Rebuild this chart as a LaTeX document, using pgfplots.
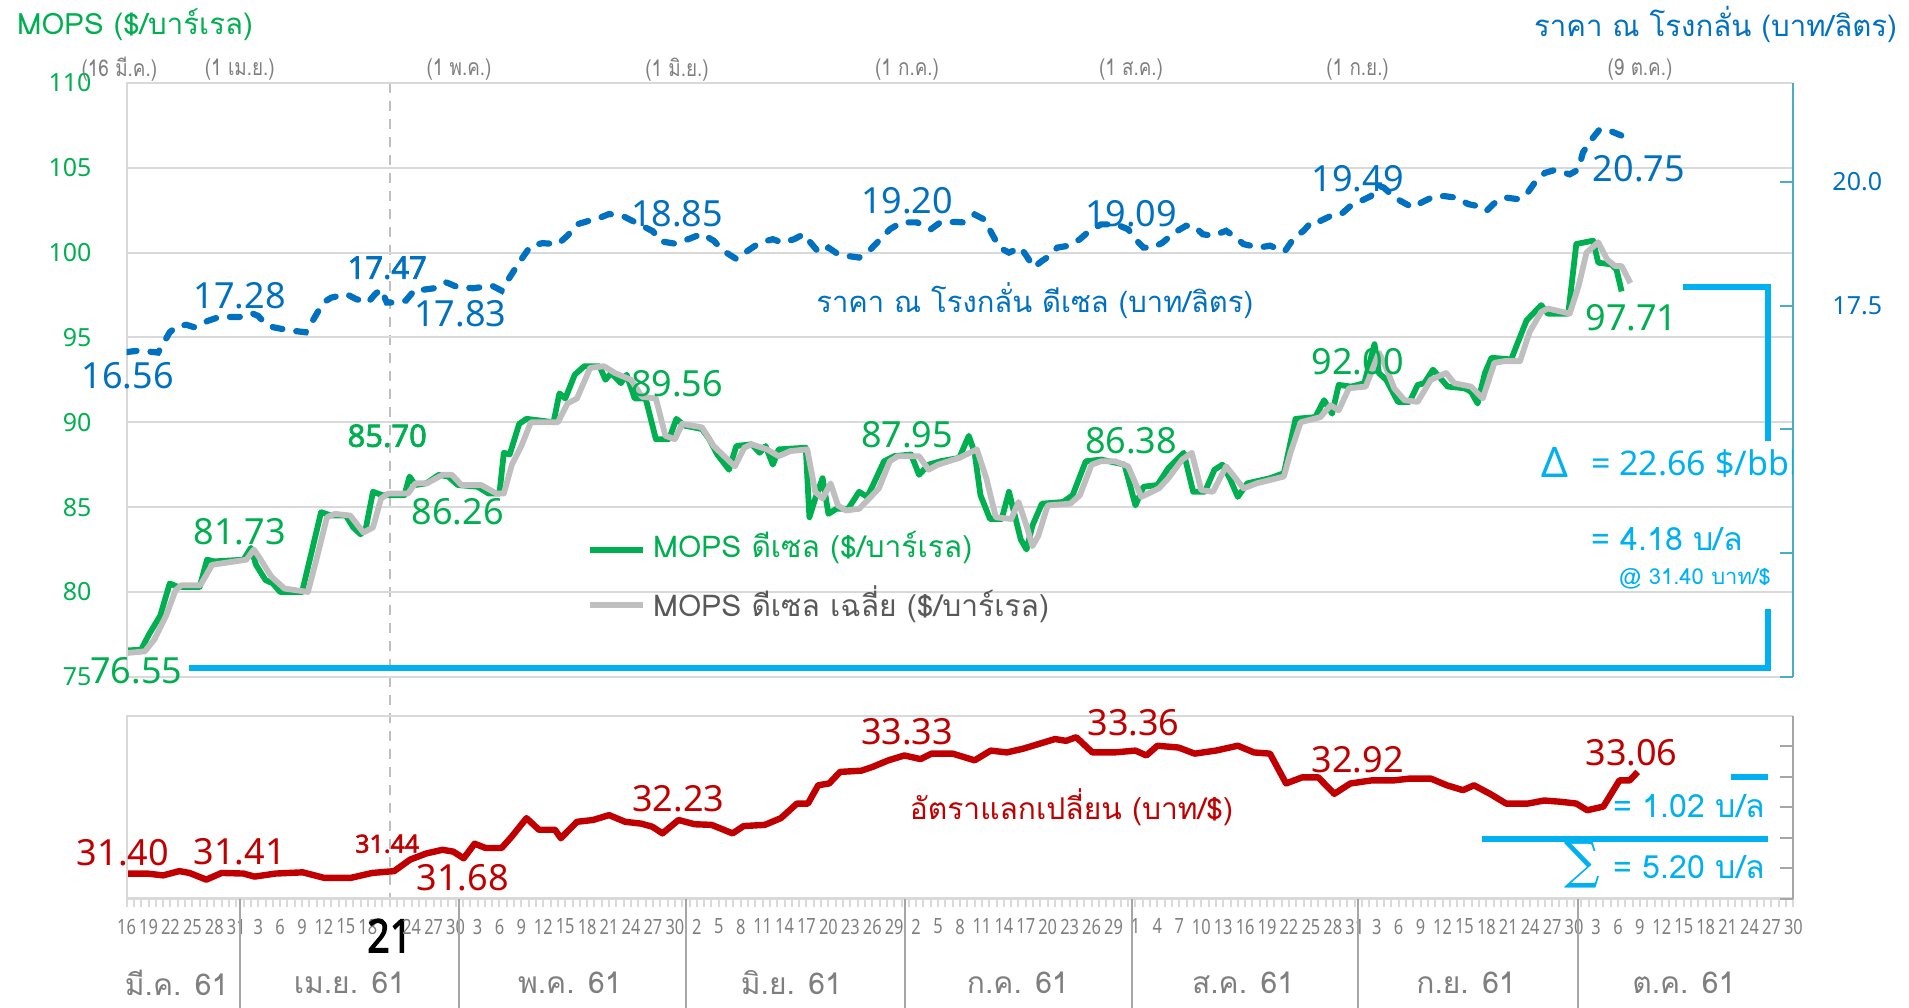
\documentclass[border=0pt]{standalone}
\usepackage{fontspec}
\usepackage{pgfplots}
\usepackage{pgfplotstable}
\pgfplotsset{compat=1.18}
\setmainfont{Noto Sans}
\newfontfamily\thai[Script=Thai]{Loma}
\newfontfamily\thainarrow[Script=Thai,FakeStretch=0.82]{Loma}
\newfontfamily\narrow[FakeStretch=0.78]{Noto Sans}
\newfontfamily\bnum[FakeBold=2.2]{Noto Sans}
\newfontfamily\bnarrow[FakeBold=2.5,FakeStretch=0.85]{Noto Sans}
\newfontfamily\dvserif{DejaVu Serif}
\definecolor{mgreen}{HTML}{00B050}
\definecolor{mblue}{HTML}{0070C0}
\definecolor{mred}{HTML}{C00000}
\definecolor{mgray}{HTML}{BFBFBF}
\definecolor{mcyan}{HTML}{00B0F0}
\definecolor{txtgray}{HTML}{7F7F7F}
\definecolor{leggray}{HTML}{595959}
\definecolor{gridgray}{HTML}{D9D9D9}
\definecolor{axteal}{HTML}{4BACC6}
\newcommand{\fs}[1]{\fontsize{#1}{#1}\selectfont}

\pgfplotstableread{
x y
0 76.55
2 76.6
3 77.45
4.6 78.6
5.9 80.5
7 80.3
10 80.3
11 81.9
12 81.8
16 81.9
17 82.6
17.7 81.6
19 80.7
20 80.5
21 80.0
24 80.0
25 81.8
26.6 84.7
28 84.5
30 84.5
31 83.8
32 83.4
32.7 83.7
33.7 85.9
35 85.7
38 85.7
38.7 86.8
39.5 86.3
41 86.4
42.7 86.9
44 86.8
45.3 86.3
48 86.2
49.5 85.8
51 85.8
51.6 88.2
52.4 88.1
53.7 89.9
54.7 90.2
58.4 90.0
59.2 91.7
60 91.4
61.3 92.8
62.6 93.3
64.7 93.3
65.5 92.5
66.3 92.9
67.6 92.3
68.4 92.8
69.5 91.4
71 91.4
72.4 89.0
74.2 89.0
75.2 90.2
76.3 89.8
78.7 89.6
79.7 89.0
80.8 88.1
82.4 87.2
83.4 88.6
85.5 88.7
86.6 88.2
87.4 88.6
88.4 87.5
89.2 88.4
92.9 88.5
93.4 84.4
94.2 85.5
95.2 86.7
96 84.6
97.1 84.9
98.7 84.9
100.2 85.9
101.3 85.6
102.1 86.3
103.6 87.7
105 88.0
107.3 88.1
108.4 86.9
109.7 87.5
111.3 87.7
113.9 87.9
115.2 89.2
116 88.2
116.8 85.7
118.1 84.3
119.7 84.3
120.7 85.9
121.5 84.5
122.3 83.1
123.1 82.5
123.9 83.9
125.2 85.2
128.1 85.3
129.4 85.7
131.2 87.7
133.3 87.8
136.5 87.5
138 85.1
139.1 86.2
141 86.3
142.5 87.3
144.6 88.2
145.9 85.9
147.5 85.9
148.8 87.2
149.9 87.5
150.9 86.7
152 85.6
153.3 86.4
156.4 86.7
158.3 87.0
159.9 90.2
162.6 90.3
163.8 91.3
164.9 90.5
165.8 92.2
167.5 92.1
169.3 92.3
170.7 94.6
171.3 92.9
172.3 92.5
173.9 91.2
175.5 91.2
176.6 92.2
177.5 92.3
178.7 93.1
179.3 92.8
180.7 92.1
183 92.0
183.9 91.8
184.8 91.1
185.8 92.9
186.7 93.8
189.4 93.7
190.3 94.7
191.5 96.0
193.5 96.9
194.4 96.4
197.2 96.4
198.3 100.5
200.6 100.7
201.3 99.4
203.1 99.3
203.8 99.0
204.5 97.71
}\greendata

\pgfplotstableread{
x y
0 76.4
2.5 76.5
3.8 77.2
5.4 78.6
6.7 80.1
7.5 80.4
10.1 80.4
11.7 81.6
16.4 81.9
17.4 82.5
18.2 82.0
19.8 80.9
21.6 80.2
24.8 80.0
25.9 81.8
27.4 84.4
28.5 84.6
30.6 84.5
32.4 83.5
33.7 83.8
34.8 85.5
35.8 85.8
38.5 85.8
39.5 86.4
41.1 86.4
43.2 86.9
44.5 86.9
45.8 86.3
48.5 86.3
50.6 85.8
51.6 85.8
52.7 87.5
54 88.6
55.3 90.0
59 90.0
60.3 91.1
61.6 91.4
63.4 93.2
65.3 93.3
66.8 92.9
69 92.5
70.5 91.5
72.4 91.4
73.7 89.2
75 89.0
76 89.9
78.7 89.7
80.3 88.6
83.2 87.4
84.5 88.5
85.5 88.7
87.6 88.4
89.2 88.0
90.8 88.3
93.1 88.4
94.2 85.9
95.2 85.5
96.3 86.4
97.3 85.1
98.4 84.8
100.2 84.9
101.8 85.6
102.9 86.1
104.4 87.7
105.5 88.0
108.4 88.0
109.7 87.2
111 87.5
113.9 87.9
116.3 88.4
117.6 86.7
118.9 84.4
121 84.3
122 85.3
123.1 83.9
123.9 82.7
124.7 83.3
126 85.1
129.1 85.2
130.4 85.7
132 87.5
133.3 87.7
135.2 87.7
137 87.4
138.8 85.6
141.2 86.1
142.5 86.7
144.4 87.8
145.7 88.2
147 86.0
148.6 85.9
150.4 87.4
152.8 86.1
154.6 86.4
158.3 86.8
159.2 88.2
160.6 90.0
163.3 90.3
164.7 91.0
165.8 90.7
167.2 92.0
169.5 92.1
171.3 94.1
172 93.5
173.4 92.0
174.8 91.3
176.6 91.2
178.4 92.5
180.5 92.9
181.6 92.3
183.9 92.1
185.5 91.4
187.1 93.5
188.5 93.6
190.6 93.6
191.9 95.3
193.5 96.5
194.4 96.7
197.4 96.4
198.6 98.0
199.7 100.0
201.3 100.6
202.5 99.6
203.6 99.2
204.5 99.2
205.7 98.2
}\graydata

\pgfplotstableread{
x y
0 16.56
1.7 16.59
3 16.57
4.3 16.55
5.9 16.96
7 17.09
8.2 17.11
9.3 17.06
11.1 17.19
12.7 17.27
15.9 17.27
17.2 17.34
18 17.29
19 17.13
20.1 17.06
22.2 17.00
24.5 16.96
25.6 17.23
26.9 17.56
28 17.66
30.1 17.73
31.4 17.63
33 17.56
34 17.73
34.8 17.83
35.6 17.56
36.4 17.56
38.2 17.60
39.5 17.83
40.6 17.82
42.1 17.85
43.7 17.97
45.3 17.87
47.4 17.85
50 17.90
51.3 17.80
52.1 18.00
53.7 18.37
55.3 18.71
56.9 18.76
59 18.74
60.3 18.91
61.6 19.14
63.2 19.21
64.2 19.24
66 19.35
68 19.30
70 19.15
72 19.00
73 18.80
75 18.75
77 18.85
78.7 18.95
80.3 18.81
81.6 18.61
83.4 18.44
85 18.61
86.6 18.77
88.4 18.84
89.7 18.77
91.3 18.84
92.6 18.94
93.9 18.71
94.7 18.57
96 18.67
97.3 18.54
98.7 18.50
100.2 18.47
101.8 18.64
103.1 18.84
104.4 19.04
106 19.18
108.1 19.18
110 19.04
111.3 19.18
113.4 19.19
114.4 19.18
116 19.34
117.3 19.24
118.4 18.94
119.4 18.67
120.7 18.57
122.3 18.67
123.1 18.50
124.1 18.27
125.2 18.40
126.2 18.50
127.3 18.67
128.9 18.71
130.4 18.84
131.7 19.01
133.3 19.14
135.4 19.14
137 19.04
138 18.84
139.1 18.67
140.4 18.67
141.7 18.77
143.3 18.97
144.9 19.11
146 19.11
147.2 18.94
148.6 18.91
150.4 19.01
151.4 18.91
152.8 18.74
154.9 18.67
156.4 18.71
158.4 18.59
159.7 18.87
161 19.01
162.2 19.21
163.3 19.21
164.7 19.31
166.1 19.34
167.4 19.51
168.8 19.61
170.2 19.71
171.3 19.92
172 19.88
173.2 19.71
174.3 19.61
175.9 19.48
177.1 19.58
178.9 19.71
180.3 19.71
181.9 19.68
183.5 19.55
184.8 19.51
186 19.41
187.4 19.61
188.7 19.68
190.3 19.65
191.5 19.75
192.6 19.98
194 20.18
195.4 20.24
197.4 20.15
198.6 20.25
199.2 20.59
200.2 20.82
201.5 21.06
202.9 21.03
204.7 20.92
}\bluedata

\pgfplotstableread{
x y
0 31.41
2.8 31.41
5 31.38
7.2 31.45
8.6 31.42
10.9 31.31
13 31.42
16 31.41
17.5 31.36
20.4 31.41
24.1 31.43
27 31.34
30.7 31.34
33.6 31.42
36.6 31.45
38.8 31.64
41 31.74
43.2 31.80
44.7 31.77
46.1 31.66
47.6 31.90
49.1 31.83
51.3 31.83
52.7 32.02
54.7 32.32
56.4 32.13
58.6 32.13
59.4 31.99
61.6 32.26
63.8 32.29
66 32.37
68.2 32.26
70.4 32.23
71.9 32.18
73.3 32.07
75.5 32.29
77.7 32.22
80 32.21
82.9 32.07
84.4 32.19
87.3 32.21
89.5 32.32
91.7 32.56
93.2 32.56
94.6 32.86
96.1 32.89
97.6 33.08
100.5 33.10
102 33.16
104.2 33.27
106.4 33.35
108.6 33.29
110.1 33.38
113 33.38
116 33.27
118.2 33.43
120.4 33.40
122.6 33.46
124.8 33.54
127 33.62
128.5 33.59
129.9 33.65
132.1 33.40
135.1 33.40
138 33.43
139.5 33.35
141 33.51
143.9 33.48
146.1 33.38
149 33.43
152 33.51
154.2 33.40
156.4 33.38
158.6 32.89
160.8 32.99
163 32.99
165.2 32.72
167.4 32.89
170.3 32.94
173.3 32.94
175.5 32.97
178.4 32.97
180.6 32.86
182.8 32.78
184.3 32.86
186.5 32.72
188.7 32.56
191.7 32.56
193.9 32.61
196.1 32.59
198.3 32.56
199.8 32.45
202 32.51
204.2 32.94
205.6 32.94
206.7 33.08
}\reddata

\begin{document}
\begin{tikzpicture}
\useasboundingbox (0,0) rectangle (954.5pt,503.5pt);
% dashed marker line at 21 Apr
\draw[mgray, line width=1pt, dash pattern=on 5pt off 4pt] (194.9pt,462.1pt) -- (194.9pt,54.25pt);

% ---------- top panel, left axis (MOPS) ----------
\begin{axis}[
  at={(63.3pt,165.1pt)}, anchor=south west, scale only axis,
  width=833.4pt, height=297pt,
  xmin=0, xmax=228, ymin=75, ymax=110,
  axis line style={draw=none},
  xtick=\empty,
  ytick={75,80,...,110},
  yticklabels={75,80,85,90,95,100,105,110},
  yticklabel style={font=\fs{12.5}, text=mgreen, xshift=-14pt},
  ytick style={draw=none},
  ymajorgrids, grid style={gridgray, line width=1pt},
  clip=false,
]
\addplot[mgreen, line width=2.9pt, line join=round] table {\greendata};
\addplot[mgray, line width=2.9pt, line join=round] table {\graydata};
\draw[gridgray, line width=1pt] (rel axis cs:0,0) -- (rel axis cs:0,1) -- (rel axis cs:1,1);
\end{axis}

% ---------- top panel, right axis (price) ----------
\begin{axis}[
  at={(63.3pt,165.1pt)}, anchor=south west, scale only axis,
  width=833.4pt, height=297pt,
  xmin=0, xmax=228, ymin=10, ymax=22,
  axis x line=none, axis y line*=right,
  y axis line style={axteal, line width=1pt},
  ytick={10,12.5,15,17.5,20},
  yticklabels={,,,17.5,20.0},
  ytick style={axteal, line width=1pt},
  tick align=inside, major tick length=6.5pt,
  yticklabel style={font=\fs{12.5}, text=mblue, xshift=16pt},
]
\addplot[mblue, line width=3.1pt, line cap=round, dash pattern=on 5pt off 7pt] table {\bluedata};
\end{axis}

% ---------- bottom panel (exchange rate) ----------
\begin{axis}[
  at={(63.3pt,54.25pt)}, anchor=south west, scale only axis,
  width=833.4pt, height=91.3pt,
  xmin=0, xmax=228, ymin=31, ymax=34,
  axis line style={draw=none},
  ytick=\empty,
  xtick pos=left,
  xtick={0,3,...,228},
  xticklabels={16,19,22,25,28,31,3,6,9,12,15,18,{\textcolor{black}{\bnarrow\fs{23}\raisebox{1pt}{21}}},24,27,30,3,6,9,12,15,18,21,24,27,30,2,5,8,11,14,17,20,23,26,29,2,5,8,11,14,17,20,23,26,29,1,4,7,10,13,16,19,22,25,28,31,3,6,9,12,15,18,21,24,27,30,3,6,9,12,15,18,21,24,27,30},
  minor x tick num=2,
  tick align=outside, major tick length=4pt, minor tick length=4pt,
  x tick style={gridgray, line width=1pt},
  xticklabel style={font=\narrow\fs{10.5}, text=txtgray, yshift=-5pt, inner sep=1pt},
  clip=false,
]
\addplot[mred, line width=3.2pt, line join=round] table {\reddata};
\draw[gridgray, line width=1pt] (rel axis cs:0,0) -- (rel axis cs:0,1) -- (rel axis cs:1,1);
\draw[gridgray, line width=1.6pt] (rel axis cs:0,0) -- (rel axis cs:1,0);
\draw[gray!70, line width=1pt] (rel axis cs:1,0) -- (rel axis cs:1,1);
\draw[gray!70, line width=1pt] (axis cs:228,31.5) -- ++(-6.5pt,0pt);
\draw[gray!70, line width=1pt] (axis cs:228,32) -- ++(-6.5pt,0pt);
\draw[gray!70, line width=1pt] (axis cs:228,32.5) -- ++(-6.5pt,0pt);
\draw[gray!70, line width=1pt] (axis cs:228,33) -- ++(-6.5pt,0pt);
\draw[gray!70, line width=1pt] (axis cs:228,33.5) -- ++(-6.5pt,0pt);
\draw[gray!70, line width=1pt] (axis cs:228,31) -- ++(-6.5pt,0pt);
% month dividers
\draw[gray!70, line width=1pt] (axis cs:15.5,31) -- ++(0pt,-56pt);
\draw[gray!70, line width=1pt] (axis cs:45.5,31) -- ++(0pt,-56pt);
\draw[gray!70, line width=1pt] (axis cs:76.5,31) -- ++(0pt,-56pt);
\draw[gray!70, line width=1pt] (axis cs:106.5,31) -- ++(0pt,-56pt);
\draw[gray!70, line width=1pt] (axis cs:137.5,31) -- ++(0pt,-56pt);
\draw[gray!70, line width=1pt] (axis cs:168.5,31) -- ++(0pt,-56pt);
\draw[gray!70, line width=1pt] (axis cs:198.5,31) -- ++(0pt,-56pt);
\end{axis}

% ---------- month names ----------
\begin{scope}[every node/.style={font=\thai\fs{15}, text=txtgray}]
\node at (88.3pt,12.2pt) {มี.ค. 61};
\node at (174.7pt,12.2pt) {เม.ย. 61};
\node at (284.9pt,12.2pt) {พ.ค. 61};
\node at (395.7pt,12.2pt) {มิ.ย. 61};
\node at (508.9pt,12.2pt) {ก.ค. 61};
\node at (621.5pt,12.2pt) {ส.ค. 61};
\node at (733.0pt,12.2pt) {ก.ย. 61};
\node at (841.9pt,12.2pt) {ต.ค. 61};
\end{scope}

% ---------- top date labels ----------
\begin{scope}[every node/.style={font=\thainarrow\fs{11.5}, text=txtgray}]
\node at (59.7pt,468.8pt) {(16 มี.ค.)};
\node at (119.9pt,468.8pt) {(1 เม.ย.)};
\node at (229.5pt,468.8pt) {(1 พ.ค.)};
\node at (338.5pt,468.8pt) {(1 มิ.ย.)};
\node at (453.5pt,468.8pt) {(1 ก.ค.)};
\node at (565.5pt,468.8pt) {(1 ส.ค.)};
\node at (678.8pt,468.8pt) {(1 ก.ย.)};
\node at (820.0pt,468.8pt) {(9 ต.ค.)};
\end{scope}

% ---------- titles ----------
\node[anchor=west, font=\thai\fs{14.7}, text=mgreen] at (5pt,491.3pt) {MOPS (\$/บาร์เรล)};
\node[anchor=east, font=\thai\fs{14.7}, text=mblue] at (952pt,491.3pt) {ราคา ณ โรงกลั่น (บาท/ลิตร)};

% ---------- series labels ----------
\node[font=\thai\fs{14.6}, text=mblue] at (517.4pt,353.1pt) {ราคา ณ โรงกลั่น ดีเซล (บาท/ลิตร)};
\node[font=\thai\fs{15}, text=mred] at (535.7pt,99.9pt) {อัตราแลกเปลี่ยน (บาท/\$)};
\draw[mgreen, line width=2.9pt] (295.2pt,228.3pt) -- (321.4pt,228.3pt);
\node[anchor=west, font=\thai\fs{15}, text=mgreen] at (323pt,229.5pt) {MOPS ดีเซล (\$/บาร์เรล)};
\draw[mgray, line width=2.9pt] (295.2pt,200.9pt) -- (321.4pt,200.9pt);
\node[anchor=west, font=\thai\fs{15}, text=leggray] at (323pt,201.5pt) {MOPS ดีเซล เฉลี่ย (\$/บาร์เรล)};

% ---------- value labels ----------
\begin{scope}[every node/.style={font=\fs{18}, inner sep=0pt}]
\node[text=mgreen] at (68.2pt,168.1pt) {76.55};
\node[text=mgreen] at (119.9pt,237.5pt) {81.73};
\node[text=mgreen, font=\bnum\fs{15.5}] at (193.6pt,285.6pt) {85.70};
\node[text=mgreen] at (228.9pt,247.8pt) {86.26};
\node[text=mgreen] at (338.5pt,311.7pt) {89.56};
\node[text=mgreen] at (453.5pt,286.2pt) {87.95};
\node[text=mgreen] at (565.5pt,283.1pt) {86.38};
\node[text=mgreen] at (678.8pt,322.7pt) {92.00};
\node[text=mgreen] at (815.7pt,344.6pt) {97.71};
\node[text=mblue] at (63.9pt,315.4pt) {16.56};
\node[text=mblue] at (119.9pt,355.6pt) {17.28};
\node[text=mblue, font=\bnum\fs{15.5}] at (193.6pt,369.6pt) {17.47};
\node[text=mblue] at (230.1pt,346.4pt) {17.83};
\node[text=mblue] at (338.5pt,396.4pt) {18.85};
\node[text=mblue] at (453.5pt,403.1pt) {19.20};
\node[text=mblue] at (565.5pt,396.4pt) {19.09};
\node[text=mblue] at (678.8pt,414.0pt) {19.49};
\node[text=mblue] at (819.4pt,418.9pt) {20.75};
\node[text=mred] at (61.5pt,77.4pt) {31.40};
\node[text=mred] at (119.9pt,77.4pt) {31.41};
\node[text=mred, font=\bnum\fs{12.5}] at (193.6pt,81.6pt) {31.44};
\node[text=mred] at (231.3pt,64.6pt) {31.68};
\node[text=mred] at (339.1pt,104.2pt) {32.23};
\node[text=mred] at (453.5pt,137.6pt) {33.33};
\node[text=mred] at (566.7pt,141.9pt) {33.36};
\node[text=mred] at (678.8pt,123.6pt) {32.92};
\node[text=mred] at (815.7pt,127.3pt) {33.06};
\end{scope}

% ---------- cyan annotations ----------
\draw[mcyan, line width=3pt] (94.4pt,169.3pt) -- (883.9pt,169.3pt) -- (883.9pt,199.1pt);
\draw[mcyan, line width=3pt] (841.3pt,359.8pt) -- (883.9pt,359.8pt) -- (883.9pt,283.1pt);
\node[text=mcyan, font=\fs{21}] at (777.4pt,272.5pt) {Δ};
\begin{scope}
\clip (0pt,0pt) rectangle (896.2pt,503.5pt);
\node[anchor=west, text=mcyan, font=\fs{17}] at (792pt,271.6pt) {= 22.66 \$/bbl};
\end{scope}
\node[anchor=west, text=mcyan, font=\thai\fs{16}] at (792pt,233.8pt) {= 4.18 บ/ล};
\node[anchor=west, text=mcyan, font=\thai\fs{11}] at (806pt,214.3pt) {@ 31.40 บาท/\$};
\draw[mcyan, line width=3pt] (865.6pt,115.1pt) -- (883.9pt,115.1pt);
\node[anchor=east, text=mcyan, font=\thai\fs{16}] at (886pt,100.5pt) {= 1.02 บ/ล};
\draw[mcyan, line width=3pt] (740.9pt,84.1pt) -- (883.9pt,84.1pt);
\node[text=mcyan, font=\dvserif\fs{25}] at (791.4pt,70.6pt) {∑};
\node[anchor=east, text=mcyan, font=\thai\fs{16}] at (886pt,70.1pt) {= 5.20 บ/ล};
\end{tikzpicture}
\end{document}
